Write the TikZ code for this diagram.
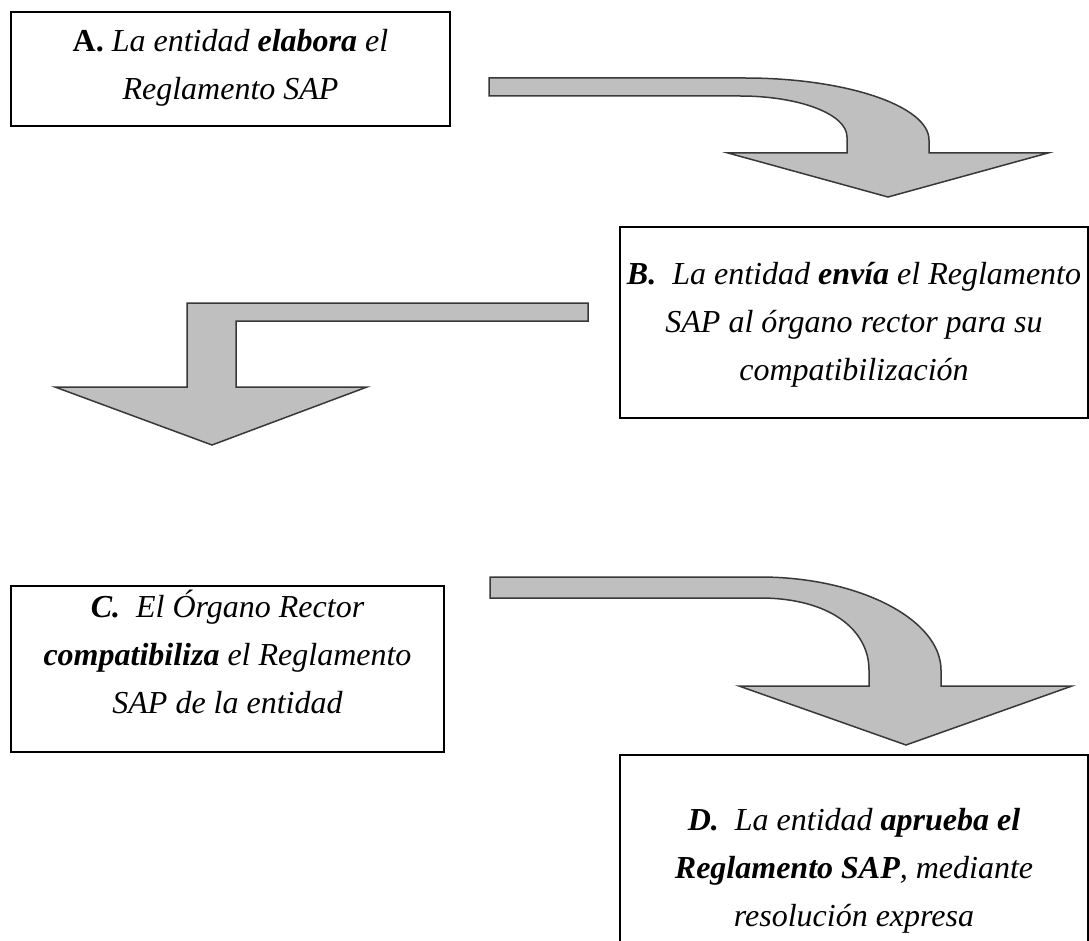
\documentclass[tikz,border=0pt]{standalone}
\usepackage{fontspec}
\setmainfont{Liberation Serif}
\begin{document}
\begin{tikzpicture}[x=1pt,y=-1pt,
  stepbox/.style={draw=black,line width=2pt,inner sep=0pt},
  steptext/.style={inner sep=0pt,align=center,
    font=\fontsize{32}{48}\selectfont\itshape},
  bigarrow/.style={draw=black!78,fill=black!25,line width=1.5pt,line join=miter}]
\useasboundingbox (0,0) rectangle (1089,941);
% boxes
\node[stepbox,minimum width=439pt,minimum height=114pt] (Abox) at (230.5,69) {};
\node[steptext] (A) at (230.5,68)
  {\textbf{\upshape A.} La entidad \textbf{elabora} el\\Reglamento SAP};
\node[stepbox,minimum width=468pt,minimum height=191pt] (Bbox) at (854,322.5) {};
\node[steptext] (B) at (854,324.5)
  {\textbf{B.}\ \ La entidad \textbf{envía} el Reglamento\\SAP al órgano rector para su\\compatibilización};
\node[stepbox,minimum width=433pt,minimum height=166pt] (Cbox) at (227.5,669) {};
\node[steptext] (C) at (227.5,652)
  {\textbf{C.}\ \ El Órgano Rector\\\textbf{compatibiliza} el Reglamento\\SAP de la entidad};
\node[stepbox,minimum width=468pt,minimum height=200pt] (Dbox) at (854,855) {};
\node[steptext] (D) at (854,871)
  {\textbf{D.}\ \ La entidad \textbf{aprueba el}\\\textbf{Reglamento SAP}, mediante\\resolución expresa};
% arrow 1 (A -> B)
\path[bigarrow] (489,78) -- (745,78) .. controls (846,78) and (929,106) .. (929,140)
  -- (929,153) -- (1048,153) -- (888,197) coordinate (t1) -- (728,153) -- (847,153) -- (847,137)
  .. controls (847,114) and (799,96) .. (740,96) -- (489,96) -- cycle;
% arrow 2 (B -> C)
\path[bigarrow] (588,303) -- (187,303) -- (187,387) -- (55,387) -- (212,445) coordinate (t2)
  -- (367,387) -- (236,387) -- (236,321) -- (588,321) -- cycle;
% arrow 3 (C -> D)
\path[bigarrow] (490,577) -- (760,577) .. controls (860,577) and (941,620) .. (941,670)
  -- (941,686) -- (1072,686) -- (906,745) coordinate (t3) -- (739,686) -- (869,686) -- (869,670)
  .. controls (869,630) and (830,598) .. (760,598) -- (490,598) -- cycle;
\end{tikzpicture}
\end{document}
